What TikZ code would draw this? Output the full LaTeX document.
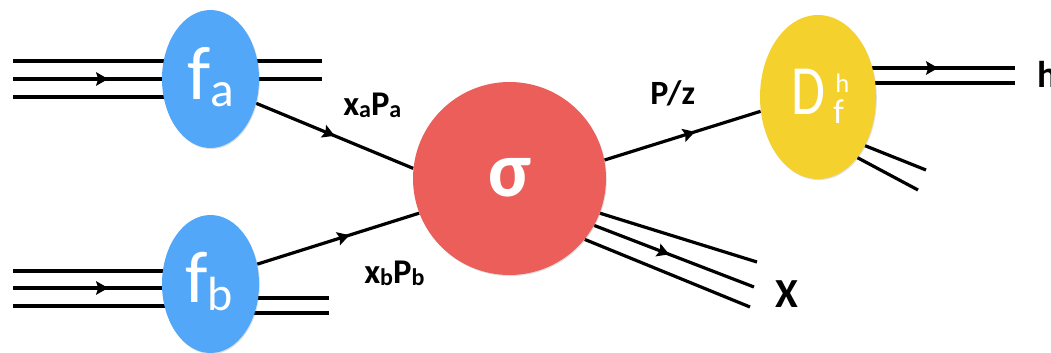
\documentclass[tikz,border=0pt]{standalone}
\usepackage{fontspec}
\setmainfont{Carlito}
\usetikzlibrary{shapes.geometric,arrows.meta,decorations.markings,backgrounds,shadows}
\definecolor{pdfblue}{RGB}{82,167,248}
\definecolor{xsred}{RGB}{235,94,89}
\definecolor{ffyellow}{RGB}{244,209,45}
\newcommand{\fsz}[1]{\fontsize{#1}{#1}\selectfont}
\begin{document}
\begin{tikzpicture}[x=0.75pt,y=-0.75pt,
  line/.style={line width=2.4pt},
  midarrow/.style={postaction={decorate},decoration={markings,mark=at position #1 with {\arrow{Stealth[length=9pt,width=10pt,inset=1.5pt]}}}},
  blob/.style={ellipse,inner sep=0pt,draw=none,drop shadow={shadow xshift=0.6pt,shadow yshift=-0.8pt,opacity=0.25}},
  lbl/.style={inner sep=0pt,anchor=base west,text=black,font=\bfseries},
  wlbl/.style={inner sep=0pt,anchor=base west,text=white}]
\useasboundingbox (0,0) rectangle (1051,353);
% blobs
\node[blob,fill=pdfblue,minimum width=72.75pt,minimum height=103.5pt] (fa) at (210.5,79) {};
\node[blob,fill=pdfblue,minimum width=72.75pt,minimum height=103.5pt] (fb) at (210.5,284) {};
\node[blob,circle,fill=xsred,minimum size=144.75pt] (sig) at (509.5,178.5) {};
\node[blob,fill=ffyellow,minimum width=87pt,minimum height=123pt] (D) at (818,97) {};
% texts in blobs
\node[wlbl] (faT) at (187,100) {\fsz{57pt}f\raisebox{-5.25pt}{\fsz{37pt}a}};
\node[wlbl] (fbT) at (185,302) {\fsz{55pt}f\raisebox{-6.5pt}{\fsz{36pt}b}};
\node[wlbl,anchor=base,font=\bfseries] (sigT) at (510,196) {\fsz{59pt}σ};
\node[wlbl] (DT) at (791,115) {\scalebox{0.78}[1]{\fsz{53pt}D}};
\node[wlbl] (DTh) at (835,93) {\fsz{20pt}h};
\node[wlbl] (DTf) at (833,123) {\fsz{26pt}f};
% labels
\node[lbl] (la) at (343,116) {\fsz{26pt}x\raisebox{-1.5pt}{\fsz{18pt}a}P\raisebox{-1.5pt}{\fsz{18pt}a}};
\node[lbl] (lb) at (364,283) {\fsz{26pt}x\raisebox{-1.5pt}{\fsz{18pt}b}P\raisebox{-1.5pt}{\fsz{18pt}b}};
\node[lbl] (lpz) at (650,105) {\fsz{25.5pt}P/z};
\node[lbl] (lh) at (1037,88) {\fsz{28pt}h};
\node[lbl] (lX) at (775,307) {\fsz{31pt}X};
% free ends
\coordinate (aL1) at (13,61); \coordinate (aL2) at (13,79); \coordinate (aL3) at (13,97);
\coordinate (aR1) at (322,61); \coordinate (aR2) at (322,79);
\coordinate (bL1) at (13,271); \coordinate (bL2) at (13,288); \coordinate (bL3) at (13,306);
\coordinate (bR1) at (329,298); \coordinate (bR2) at (329,313);
\coordinate (hU) at (1015,68); \coordinate (hL) at (1015,83);
\coordinate (dj1) at (926,170); \coordinate (dj2) at (918,190);
\coordinate (X1) at (757,262); \coordinate (X2) at (754,287); \coordinate (X3) at (750,307);
\begin{scope}[on background layer]
\draw[line] (aL1) -- (fa.center |- aL1);
\draw[line,midarrow=0.64] (aL2) -- (fa.west);
\draw[line] (aL3) -- (fa.center |- aL3);
\draw[line] (fa.center |- aR1) -- (aR1);
\draw[line] (fa.center |- aR2) -- (aR2);
\draw[line] (bL1) -- (fb.center |- bL1);
\draw[line,midarrow=0.64] (bL2) -- (fb.west |- bL2);
\draw[line] (bL3) -- (fb.center |- bL3);
\draw[line] (fb.center |- bR1) -- (bR1);
\draw[line] (fb.center |- bR2) -- (bR2);
\draw[line,midarrow=0.5] (fa.-28.3) -- (sig.174.9);
\draw[line,midarrow=0.57] (fb.23.9) -- (sig.201);
\draw[line,midarrow=0.58] (sig.11) -- (D.194);
\draw[line,midarrow=0.61] (D.center |- hU) -- (hU);
\draw[line] (D.center |- hL) -- (hL);
\draw[line] (D.-46) -- (dj1);
\draw[line] (D.-57.4) -- (dj2);
\draw[line] (sig.-21.9) -- (X1);
\draw[line,midarrow=0.47] (sig.-29) -- (X2);
\draw[line] (sig.-39.2) -- (X3);
\end{scope}
\end{tikzpicture}
\end{document}
